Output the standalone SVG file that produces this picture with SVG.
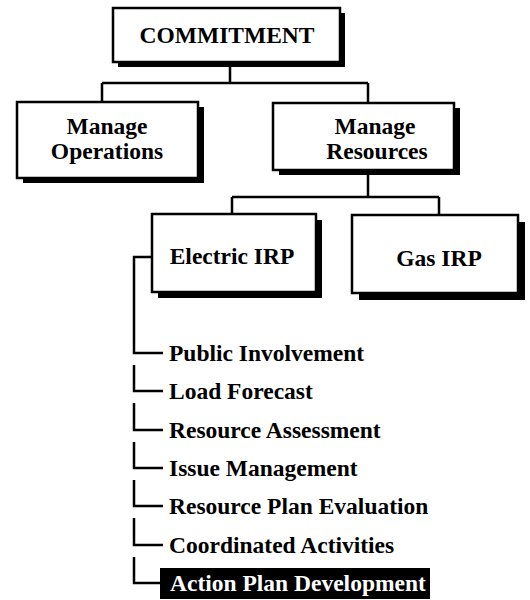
<svg xmlns="http://www.w3.org/2000/svg" width="530" height="600" viewBox="0 0 530 600">
<style>
.box{fill:#fff;stroke:#000;stroke-width:2.5}
.shadow{fill:#000}
.t{font-family:"Liberation Serif","Times New Roman",serif;font-weight:bold;font-size:23.5px;fill:#000}
.c{text-anchor:middle}
.w{fill:#fff}
.ln{fill:none;stroke:#000;stroke-width:2.5}
</style>
<rect width="530" height="600" fill="#fff"/>
<g id="connectors">
<path class="ln" d="M230 62V83M102 83H368M102 83V102M368 83V103"/>
<path class="ln" d="M368 172V197M232 197H439M232 197V214M439 197V215"/>
<path class="ln" d="M152 257H134V353H163"/>
<path class="ln" d="M134 365V391H163"/>
<path class="ln" d="M134 403V430H163"/>
<path class="ln" d="M134 442V468H163"/>
<path class="ln" d="M134 480V506H163"/>
<path class="ln" d="M134 518V545H163"/>
<path class="ln" d="M134 557V583H160"/>
</g>
<g id="commitment">
<rect class="shadow" x="118" y="13" width="227" height="54"/>
<rect class="box" x="113" y="8" width="227" height="54"/>
<text class="t c" x="227" y="43">COMMITMENT</text>
</g>
<g id="manage-operations">
<rect class="shadow" x="23" y="107" width="181" height="76"/>
<rect class="box" x="17" y="102" width="181" height="76"/>
<text class="t c" x="107" y="134">Manage</text>
<text class="t c" x="107" y="159">Operations</text>
</g>
<g id="manage-resources">
<rect class="shadow" x="279" y="108" width="181" height="67"/>
<rect class="box" x="273" y="103" width="181" height="67"/>
<text class="t c" x="375" y="134">Manage</text>
<text class="t c" x="377" y="159">Resources</text>
</g>
<g id="electric-irp">
<rect class="shadow" x="158" y="220" width="164" height="78"/>
<rect class="box" x="152" y="214" width="164" height="78"/>
<text class="t c" x="232" y="264">Electric IRP</text>
</g>
<g id="gas-irp">
<rect class="shadow" x="359" y="222" width="166" height="78"/>
<rect class="box" x="352" y="215" width="166" height="78"/>
<text class="t c" x="439" y="266">Gas IRP</text>
</g>
<g id="public-involvement"><text class="t" x="169" y="361">Public Involvement</text></g>
<g id="load-forecast"><text class="t" x="169" y="399">Load Forecast</text></g>
<g id="resource-assessment"><text class="t" x="169" y="438">Resource Assessment</text></g>
<g id="issue-management"><text class="t" x="169" y="476">Issue Management</text></g>
<g id="resource-plan-evaluation"><text class="t" x="169" y="514">Resource Plan Evaluation</text></g>
<g id="coordinated-activities"><text class="t" x="169" y="553">Coordinated Activities</text></g>
<g id="action-plan-development">
<rect x="160" y="568" width="270" height="31" fill="#000"/>
<text class="t w" x="170" y="591">Action Plan Development</text>
</g>
</svg>
